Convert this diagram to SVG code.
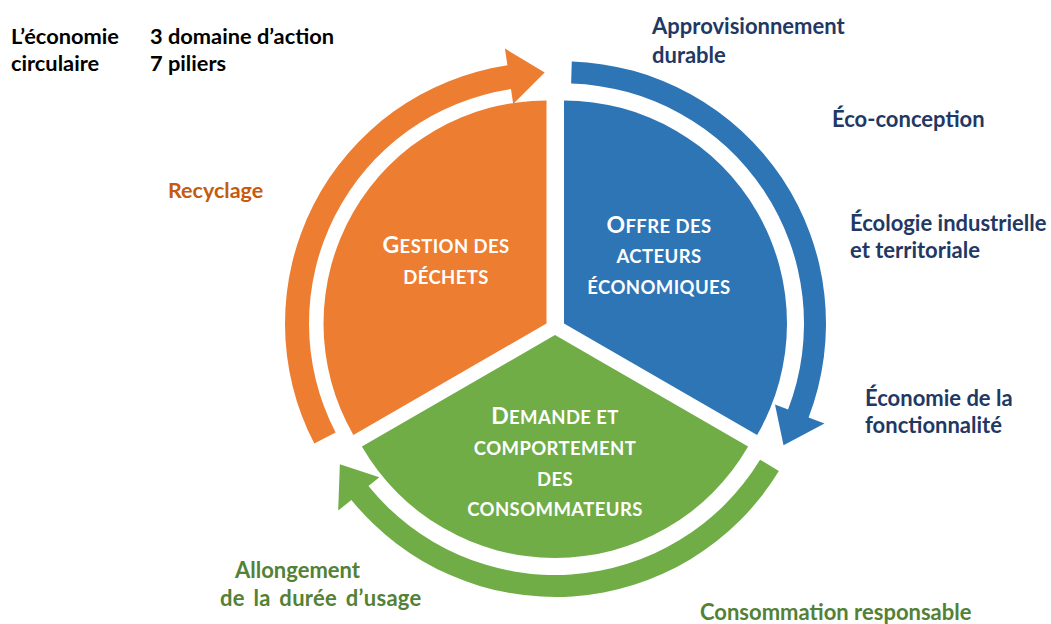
<svg xmlns="http://www.w3.org/2000/svg" width="1051" height="624" viewBox="0 0 1051 624">
<style>
text{font-family:Lato,"Open Sans","Liberation Sans",sans-serif;font-weight:bold}
.hdr{font-size:21.8px;fill:#000}
.nav{font-size:22px;fill:#1F3864}
.grn{font-size:22px;fill:#538135}
.org{font-size:21.5px;fill:#C55A11}
.lbl{font-size:18.5px;letter-spacing:0.4px;fill:#fff;text-anchor:middle}
.big{font-size:23px}
.blue{fill:#2E75B6}.orange{fill:#ED7D31}.green{fill:#70AD47}
</style>
<rect width="1051" height="624" fill="#fff"/>
<g id="title">
<text class="hdr" x="11" y="44">L’économie</text>
<text class="hdr" x="11" y="71">circulaire</text>
<text class="hdr" x="150" y="44">3 domaine d’action</text>
<text class="hdr" x="150" y="71">7 piliers</text>
</g>
<g id="connectors">
<path id="arrow-blue" class="blue" d="M571.77,61.62 A262,262 0 0 1 808.60,417.39 L824.47,423.48 L783.53,445.19 L774.99,404.49 L788.06,409.51 A240,240 0 0 0 571.12,83.61 Z"/>
<path id="arrow-green" class="green" d="M778.84,471.11 A262,262 0 0 1 351.39,499.88 L338.18,510.58 L339.85,464.27 L379.36,477.23 L368.48,486.04 A240,240 0 0 0 760.05,459.68 Z"/>
<path id="arrow-orange" class="orange" d="M314.28,443.61 A261,261 0 0 1 507.42,65.37 L504.91,48.55 L544.69,72.5 L513.19,103.94 L510.97,89.10 A237,237 0 0 0 335.59,432.57 Z"/>
</g>
<g id="node-offre">
<path class="blue" d="M564,323.5 L564,100.5 A223,223 0 0 1 757.12,435 Z"/>
<text class="lbl" x="659" y="233"><tspan class="big">O</tspan>FFRE DES</text>
<text class="lbl" x="659" y="263">ACTEURS</text>
<text class="lbl" x="659" y="294">ÉCONOMIQUES</text>
</g>
<g id="node-gestion">
<path class="orange" d="M546.5,323.5 L353.38,435 A223,223 0 0 1 546.5,100.5 Z"/>
<text class="lbl" x="446" y="253"><tspan class="big">G</tspan>ESTION DES</text>
<text class="lbl" x="446" y="284">DÉCHETS</text>
</g>
<g id="node-demande">
<path class="green" d="M555,335 L748.12,446.5 A223,223 0 0 1 361.88,446.5 Z"/>
<text class="lbl" x="555" y="424"><tspan class="big">D</tspan>EMANDE ET</text>
<text class="lbl" x="555" y="455">COMPORTEMENT</text>
<text class="lbl" x="555" y="486">DES</text>
<text class="lbl" x="555" y="516">CONSOMMATEURS</text>
</g>
<g id="pillars">
<text class="nav" x="652" y="34">Approvisionnement</text>
<text class="nav" x="652" y="63">durable</text>
<text class="nav" x="832" y="127">Éco-conception</text>
<text class="nav" x="850" y="231">Écologie industrielle</text>
<text class="nav" x="850" y="258">et territoriale</text>
<text class="nav" x="865" y="406">Économie de la</text>
<text class="nav" x="865" y="433">fonctionnalité</text>
<text class="grn" x="700" y="620">Consommation responsable</text>
<text class="grn" x="235" y="578">Allongement</text>
<text class="grn" x="220" y="606" style="word-spacing:3px;letter-spacing:0.3px">de la durée d’usage</text>
<text class="org" x="168" y="198">Recyclage</text>
</g>
</svg>
